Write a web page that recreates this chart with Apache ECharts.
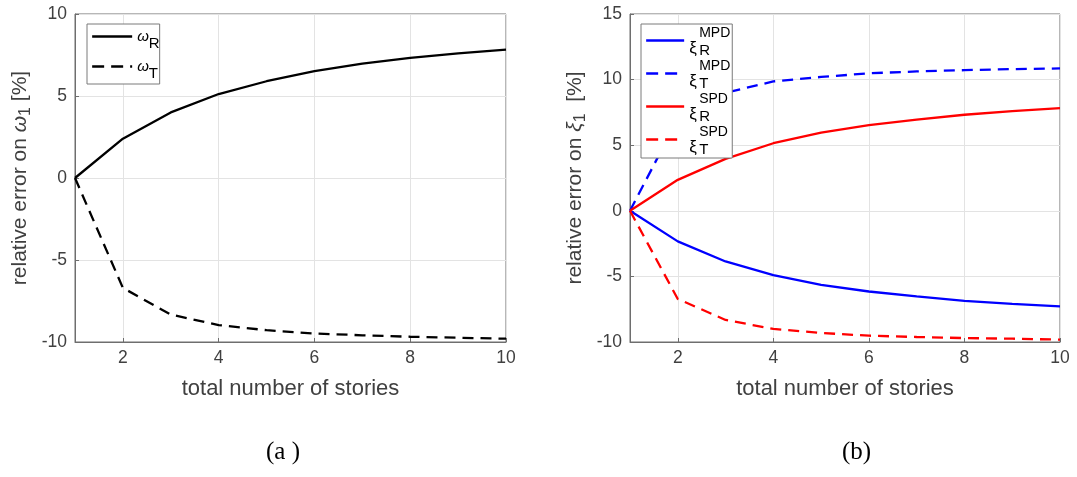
<!DOCTYPE html>
<html>
<head>
<meta charset="utf-8">
<script src="https://cdn.jsdelivr.net/npm/echarts@6/dist/echarts.min.js"></script>
<style>
html,body{margin:0;padding:0;background:#fff;}
#chart{width:1077px;height:477px;}
</style>
</head>
<body>
<div id="chart"></div>
<script>
// ---- data ----
var stories = [1, 2, 3, 4, 5, 6, 7, 8, 9, 10];
var xTicks = [2, 4, 6, 8, 10];
var omegaR = [0, 2.40, 4.00, 5.12, 5.90, 6.52, 6.98, 7.33, 7.60, 7.83];
var omegaT = [0, -6.70, -8.33, -8.97, -9.28, -9.48, -9.59, -9.68, -9.74, -9.80];
var xiR_MPD = [0, -2.33, -3.86, -4.90, -5.64, -6.15, -6.53, -6.86, -7.09, -7.29];
var xiT_MPD = [0, 7.00, 9.00, 9.86, 10.20, 10.48, 10.62, 10.72, 10.80, 10.85];
var xiR_SPD = [0, 2.36, 3.96, 5.15, 5.96, 6.53, 6.95, 7.32, 7.60, 7.83];
var xiT_SPD = [0, -6.72, -8.32, -9.00, -9.31, -9.52, -9.62, -9.70, -9.75, -9.82];
var seriesNamesA = ['ωR', 'ωT'];
var seriesNamesB = ['ξR MPD', 'ξT MPD', 'ξR SPD', 'ξT SPD'];

function pairs(xs, ys) { return xs.map(function (x, i) { return [x, ys[i]]; }); }

var FONT = '"Liberation Sans", Arial, Helvetica, sans-serif';
var TXT = '#404040';
var FRAME = '#6e6e6e';
var GRIDC = '#e3e3e3';
var DASH = [11, 7];
var LEGEND_DASH = [12, 7];

function xAxisCfg(gi) {
  return {
    gridIndex: gi, type: 'value', min: 1, max: 10,
    name: 'total number of stories', nameLocation: 'middle', nameGap: 36,
    nameTextStyle: { fontFamily: FONT, fontSize: 22, color: TXT },
    axisLine: { show: true, onZero: false, lineStyle: { color: FRAME, width: 1 } },
    axisTick: { show: true, inside: true, length: 4, customValues: xTicks, lineStyle: { color: FRAME } },
    axisLabel: { customValues: xTicks, fontFamily: FONT, fontSize: 17.5, color: TXT, margin: 7 },
    splitLine: { show: true, lineStyle: { color: GRIDC, width: 1 } }
  };
}
function yAxisCfg(gi, min, max, nameRich) {
  return {
    gridIndex: gi, type: 'value', min: min, max: max, interval: 5,
    name: nameRich, nameLocation: 'middle', nameGap: 41, nameRotate: 90,
    nameTextStyle: {
      fontFamily: FONT, fontSize: 21, color: TXT,
      rich: {
        g: { fontFamily: FONT, fontSize: 21, color: TXT, fontStyle: 'italic' },
        s: { fontFamily: FONT, fontSize: 16, color: TXT, padding: [12, 0, 0, 0] }
      }
    },
    axisLine: { show: true, lineStyle: { color: FRAME, width: 1 } },
    axisTick: { show: true, inside: true, length: 4, lineStyle: { color: FRAME } },
    axisLabel: { fontFamily: FONT, fontSize: 17.5, color: TXT, margin: 8 },
    splitLine: { show: true, lineStyle: { color: GRIDC, width: 1 } }
  };
}

function lineSeries(name, gi, ys, color, dashed) {
  return {
    name: name, type: 'line', xAxisIndex: gi, yAxisIndex: gi,
    data: pairs(stories, ys), symbol: 'none', showSymbol: false,
    lineStyle: { color: color, width: 2.3, type: dashed ? DASH : 'solid' },
    itemStyle: { color: color },
    animation: false, z: 3
  };
}
function legendItems(names, dashedFlags) {
  return names.map(function (n, i) {
    return { name: n, lineStyle: { width: 2.3, type: dashedFlags[i] ? LEGEND_DASH : 'solid' } };
  });
}

var legendRichA = {
  w: { fontFamily: FONT, fontSize: 15, fontStyle: 'italic', color: '#000', verticalAlign: 'middle' },
  r: { fontFamily: FONT, fontSize: 15, color: '#000', verticalAlign: 'middle', padding: [14, 0, 0, 0] }
};
var legendRichB = {
  sp: { width: 10, fontSize: 13, fontFamily: FONT },
  sup: { fontFamily: FONT, fontSize: 14, color: '#000', verticalAlign: 'top', padding: [3, 0, 0, 0] },
  x: { fontFamily: FONT, fontSize: 17, color: '#000', verticalAlign: 'top', width: 10 },
  sub: { fontFamily: FONT, fontSize: 15, color: '#000', verticalAlign: 'top', padding: [3, 0, 0, 0] }
};
var hiddenSymbol = { opacity: 0, color: 'transparent', borderColor: 'transparent', borderWidth: 0 };

var option = {
  backgroundColor: '#fff',
  animation: false,
  grid: [
    { left: 75, top: 14, width: 431, height: 328, show: true, borderColor: FRAME, borderWidth: 1, backgroundColor: 'transparent' },
    { left: 630, top: 14, width: 430, height: 328, show: true, borderColor: FRAME, borderWidth: 1, backgroundColor: 'transparent' }
  ],
  xAxis: [xAxisCfg(0), xAxisCfg(1)],
  yAxis: [
    yAxisCfg(0, -10, 10, 'relative error on {g|ω}{s|1} [%]'),
    yAxisCfg(1, -10, 15, 'relative error on {g|ξ}{s|1}  [%]')
  ],
  legend: [
    {
      data: legendItems(seriesNamesA, [false, true]), left: 87, top: 24, orient: 'vertical',
      itemWidth: 40, itemHeight: 12, itemGap: 8, itemTextGap: 1,
      padding: [5, 0, 3, 4],
      itemStyle: hiddenSymbol, lineStyle: { width: 2.3 },
      backgroundColor: '#fff', borderColor: '#7a7a7a', borderWidth: 1,
      formatter: function (n) { return '{w|ω}{r|' + n.charAt(1) + '}'; },
      textStyle: { rich: legendRichA }
    },
    {
      data: legendItems(seriesNamesB, [false, true, false, true]), left: 641, top: 24, orient: 'vertical',
      itemWidth: 38, itemHeight: 12, itemGap: 0, itemTextGap: 4,
      padding: [1, 2, 1, 4],
      itemStyle: hiddenSymbol, lineStyle: { width: 2.3 },
      backgroundColor: '#fff', borderColor: '#7a7a7a', borderWidth: 1,
      formatter: function (n) {
        var parts = n.split(' ');
        return '{sp| }{sup|' + parts[1] + '}\n{x|ξ}{sub|' + parts[0].charAt(1) + '}';
      },
      textStyle: { rich: legendRichB }
    }
  ],
  series: [
    lineSeries(seriesNamesA[0], 0, omegaR, '#000000', false),
    lineSeries(seriesNamesA[1], 0, omegaT, '#000000', true),
    lineSeries(seriesNamesB[0], 1, xiR_MPD, '#0000ff', false),
    lineSeries(seriesNamesB[1], 1, xiT_MPD, '#0000ff', true),
    lineSeries(seriesNamesB[2], 1, xiR_SPD, '#ff0000', false),
    lineSeries(seriesNamesB[3], 1, xiT_SPD, '#ff0000', true)
  ],
  graphic: [
    { type: 'text', left: 266, top: 440, style: { text: '(a )', fontFamily: '"Liberation Serif", "Times New Roman", serif', fontSize: 25, fill: '#000' } },
    { type: 'text', left: 842, top: 440, style: { text: '(b)', fontFamily: '"Liberation Serif", "Times New Roman", serif', fontSize: 25, fill: '#000' } }
  ]
};

var chart = echarts.init(document.getElementById('chart'), null, { renderer: 'canvas' });
chart.setOption(option);
</script>
</body>
</html>
